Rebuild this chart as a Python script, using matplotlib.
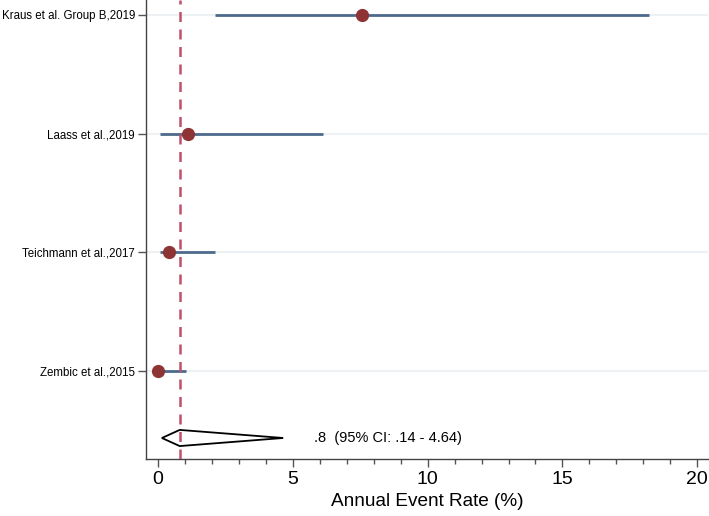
import matplotlib
matplotlib.use("Agg")
import matplotlib.pyplot as plt
from matplotlib.ticker import MultipleLocator

plt.rcParams['font.family'] = ['Liberation Sans', 'DejaVu Sans']

# study data (annual event rate, %)
studies = ['Kraus et al. Group B,2019', 'Laass et al.,2019',
           'Teichmann et al.,2017', 'Zembic et al.,2015']
rate = [7.55, 1.12, 0.4, 0.0]
ci_low = [2.1, 0.07, 0.07, 0.0]
ci_high = [18.2, 6.1, 2.1, 1.05]

# pooled estimate
pooled = 0.8
pooled_low = 0.14
pooled_high = 4.64
pooled_label = '.8  (95% CI: .14 - 4.64)'

ypos = [4, 3, 2, 1]
y_pooled = 0.436

fig = plt.figure(figsize=(7.09, 5.16), dpi=100)
ax = fig.add_axes([146 / 709, 57 / 516, 562 / 709, 459 / 516])

for y in ypos:
    ax.axhline(y, color='#edf1f4', lw=1.5, zorder=0)

ax.hlines(ypos, ci_low, ci_high, color='#4d6a8c', lw=2, zorder=2)
ax.plot(rate, ypos, 'o', color='#8f3434', ms=8.5, zorder=3)

ax.axvline(pooled, color='#c0506a', lw=1.8, ls=(0, (4, 3)), zorder=4)

h = 0.068
ax.fill([pooled_low, pooled, pooled_high, pooled, pooled_low],
        [y_pooled, y_pooled + h, y_pooled, y_pooled - h, y_pooled],
        facecolor='white', edgecolor='black', lw=1.3, zorder=3)
ax.text(5.8, y_pooled, pooled_label, fontsize=10.5, va='center', ha='left')

ax.set_xlim(-0.45, 20.4)
ax.set_ylim(0.259, 4.126)
ax.set_yticks(ypos)
ax.set_yticklabels(studies, fontsize=8.3)
ax.set_xticks([0, 5, 10, 15, 20])
ax.xaxis.set_minor_locator(MultipleLocator(1))
ax.tick_params(axis='x', labelsize=14, length=6, width=1, color='#555555', pad=3)
ax.tick_params(axis='x', which='minor', length=3.5, width=1, color='#555555')
ax.tick_params(axis='y', length=6, width=1, color='#555555', pad=2)
ax.set_xlabel('Annual Event Rate (%)', fontsize=13.7, labelpad=3)

for s in ['top', 'right']:
    ax.spines[s].set_visible(False)
for s in ['left', 'bottom']:
    ax.spines[s].set_color('#444444')
    ax.spines[s].set_linewidth(1)

fig.savefig('out.png', dpi=100, facecolor='white')
